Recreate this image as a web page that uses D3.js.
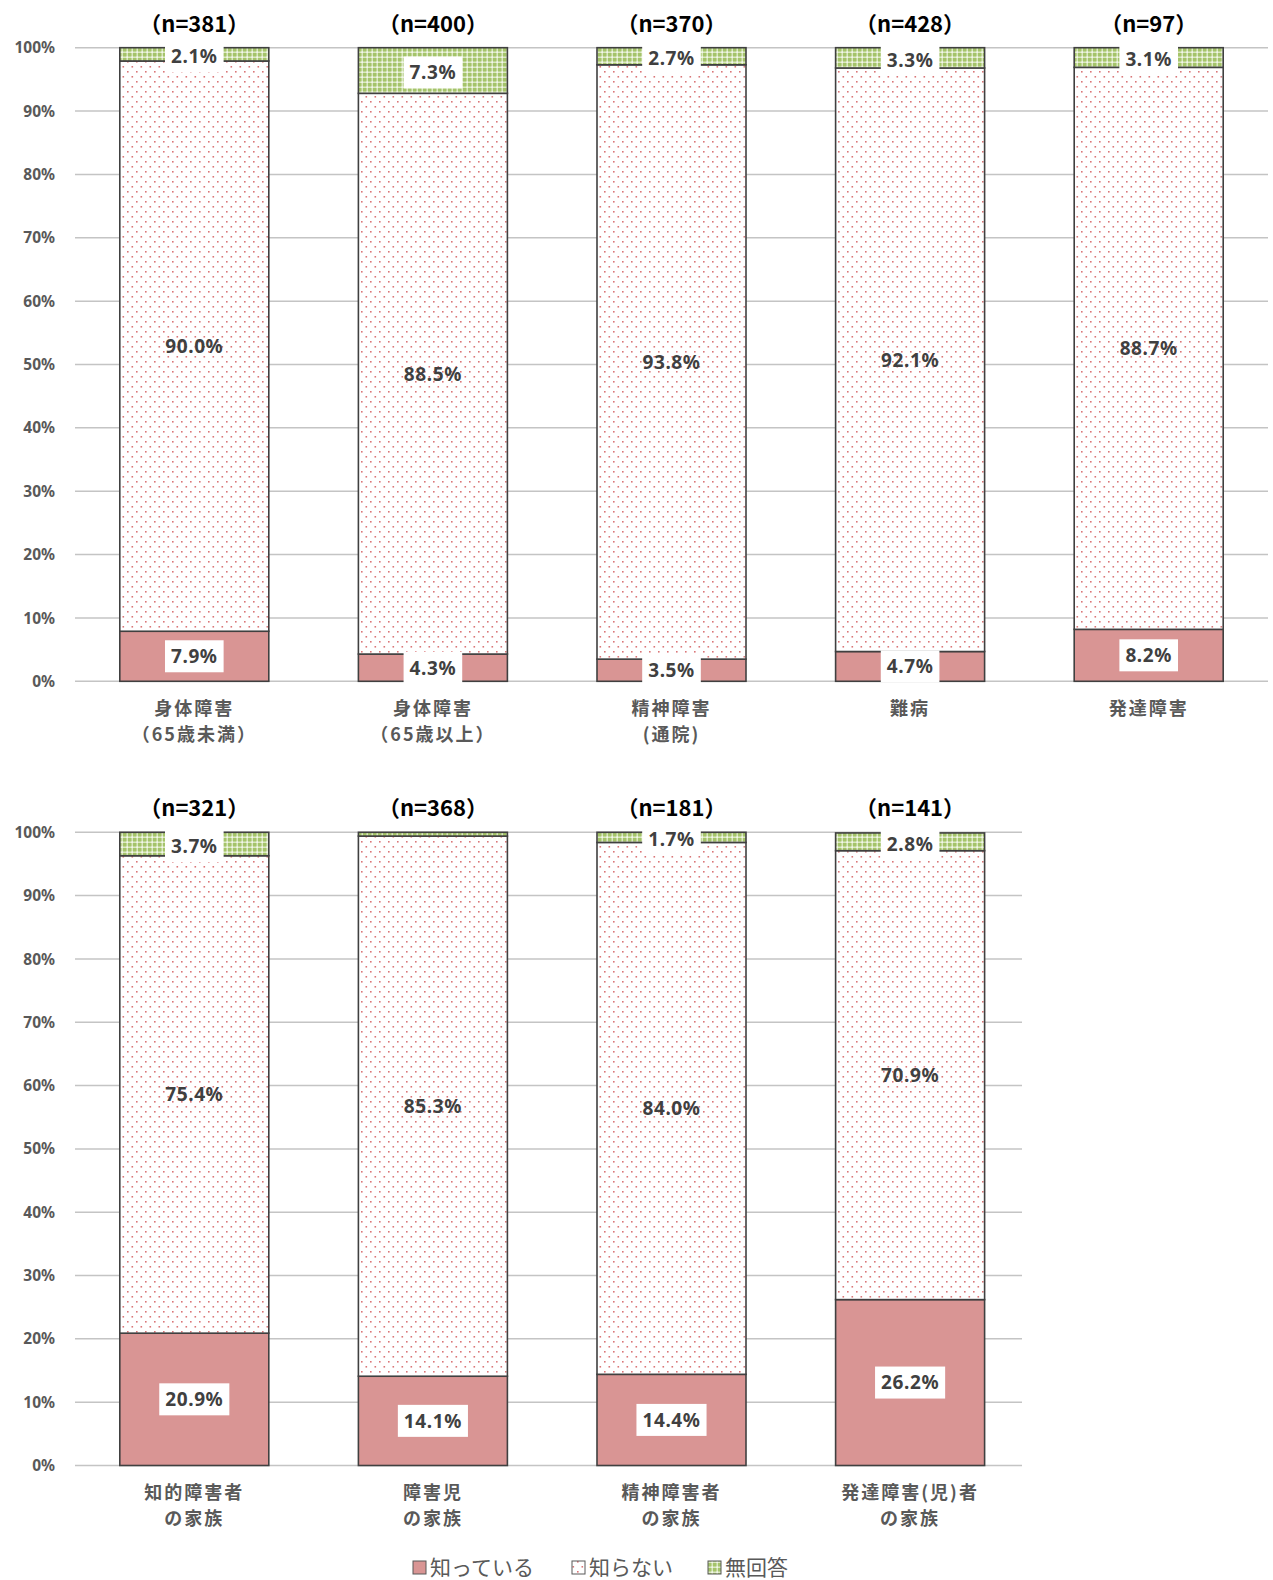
<!DOCTYPE html>
<html><head><meta charset="utf-8">
<script src="https://cdn.jsdelivr.net/npm/d3@7"></script>
<style>body{margin:0;background:#fff}svg{display:block}</style>
</head><body>
<script>
// ---- data ----
const categoriesTop = [["身体障害","（65歳未満）"],["身体障害","（65歳以上）"],["精神障害","(通院)"],["難病"],["発達障害"]];
const nTop = ["381","400","370","428","97"];
const knowTop = [7.9,4.3,3.5,4.7,8.2];
const notKnowTop = [90.0,88.5,93.8,92.1,88.7];
const noAnswerTop = [2.1,7.3,2.7,3.3,3.1];

const categoriesBottom = [["知的障害者","の家族"],["障害児","の家族"],["精神障害者","の家族"],["発達障害(児)者","の家族"]];
const nBottom = ["321","368","181","141"];
const knowBottom = [20.9,14.1,14.4,26.2];
const notKnowBottom = [75.4,85.3,84.0,70.9];
const noAnswerBottom = [3.7,0.6,1.7,2.8];

const seriesNames = ["知っている","知らない","無回答"];
const yTicks = [0,10,20,30,40,50,60,70,80,90,100];

// ---- drawing ----
const W = 1273, H = 1580;
const svg = d3.select("body").append("svg").attr("width", W).attr("height", H);
const defs = svg.append("defs");

// dotted pattern (知らない)
const pDot = defs.append("pattern").attr("id","pDot").attr("patternUnits","userSpaceOnUse")
  .attr("width",9).attr("height",10);
pDot.append("rect").attr("width",9).attr("height",10).attr("fill","#fff");
pDot.append("rect").attr("x",1).attr("y",1).attr("width",1.6).attr("height",1.6).attr("fill","#D45E61").attr("opacity",0.85);
pDot.append("rect").attr("x",5.5).attr("y",6).attr("width",1.6).attr("height",1.6).attr("fill","#D45E61").attr("opacity",0.85);

// green grid pattern (無回答)
const pGrid = defs.append("pattern").attr("id","pGrid").attr("patternUnits","userSpaceOnUse")
  .attr("width",5).attr("height",5);
pGrid.append("rect").attr("width",5).attr("height",5).attr("fill","#A5C46A");
pGrid.append("rect").attr("x",0).attr("y",1.5).attr("width",5).attr("height",1.5).attr("fill","#fff").attr("opacity",0.6);
pGrid.append("rect").attr("x",1.5).attr("y",0).attr("width",1.5).attr("height",5).attr("fill","#fff").attr("opacity",0.6);
pGrid.append("rect").attr("x",1.5).attr("y",1.5).attr("width",1.5).attr("height",1.5).attr("fill","#F2F7E8");

const fills = ["#D99594","url(#pDot)","url(#pGrid)"];
const jpFont = "'Noto Sans CJK JP','Noto Sans',sans-serif";
const STEP = 238.6;

function drawChart(opts){
  const {cats, ns, know, notKnow, noAns, x0, gridEnd, yBottom, yTop} = opts;
  const g = svg.append("g");
  const x = d3.scaleBand().domain(d3.range(cats.length)).range([x0, x0 + STEP*cats.length]).padding(0);
  const barW = 149;
  const y = d3.scaleLinear().domain([0,100]).range([yBottom, yTop]);

  // gridlines
  g.selectAll("line.grid").data(yTicks).join("line")
    .attr("x1", x0).attr("x2", gridEnd)
    .attr("y1", d=>y(d)).attr("y2", d=>y(d))
    .attr("stroke","#C4C4C4").attr("stroke-width",1.5);

  // y tick labels
  g.selectAll("text.yt").data(yTicks).join("text")
    .attr("x", 55).attr("y", d=>y(d)).attr("dy","0.36em")
    .attr("text-anchor","end").attr("font-family","'Noto Sans',sans-serif")
    .attr("font-weight","bold").attr("font-size",15.5).attr("fill","#595959")
    .text(d=>d+"%");

  const rows = cats.map((c,i)=>({i, k:know[i], n:notKnow[i], a:noAns[i]}));
  const stack = d3.stack().keys(["k","n","a"])(rows);

  stack.forEach((layer, li)=>{
    g.selectAll(null).data(layer).join("rect")
      .attr("x", d=>x(d.data.i) + (x.bandwidth()-barW)/2)
      .attr("width", barW)
      .attr("y", d=>y(Math.min(100,d[1])))
      .attr("height", d=>y(d[0]) - y(Math.min(100,d[1])))
      .attr("fill", fills[li])
      .attr("stroke","#404040").attr("stroke-width",1.6);
  });

  // data labels
  stack.forEach((layer, li)=>{
    layer.forEach(d=>{
      const v = d.data[["k","n","a"][li]];
      if (v < 1) return;
      const cx = x(d.data.i) + x.bandwidth()/2;
      const cy = y((d[0] + Math.min(100,d[1]))/2) + (li===2 ? 2 : 0);
      const lg = g.append("g");
      const t = lg.append("text").attr("x",cx).attr("y",cy).attr("dy","0.36em")
        .attr("text-anchor","middle").attr("font-family","'Noto Sans',sans-serif")
        .attr("font-weight","bold").attr("font-size",19).attr("letter-spacing",0.6).attr("fill","#404040")
        .text(v.toFixed(1)+"%");
      if (li !== 1) {
        const bb = t.node().getBBox();
        lg.insert("rect","text").attr("x", cx - bb.width/2 - 6).attr("y", cy - 16)
          .attr("width", bb.width + 12).attr("height", 32).attr("fill","#fff");
      }
    });
  });

  // n labels
  g.selectAll("text.n").data(ns).join("text")
    .attr("x",(d,i)=>x(i)+x.bandwidth()/2).attr("y", yTop - 24).attr("dy","0.36em")
    .attr("text-anchor","middle").attr("font-family",jpFont).attr("font-weight","bold")
    .attr("font-size",22).attr("fill","#000")
    .text(d=>"（n="+d+"）");

  // category labels
  cats.forEach((lines,i)=>{
    lines.forEach((ln,j)=>{
      g.append("text").attr("x", x(i)+x.bandwidth()/2).attr("y", yBottom + 27 + j*26).attr("dy","0.36em")
        .attr("text-anchor","middle").attr("font-family",jpFont).attr("font-weight","bold")
        .attr("font-size",18).attr("letter-spacing",2).attr("fill","#595959").text(ln);
    });
  });
}

drawChart({cats:categoriesTop, ns:nTop, know:knowTop, notKnow:notKnowTop, noAns:noAnswerTop,
  x0:75, gridEnd:1268, yBottom:681.3, yTop:47.7});
drawChart({cats:categoriesBottom, ns:nBottom, know:knowBottom, notKnow:notKnowBottom, noAns:noAnswerBottom,
  x0:75, gridEnd:1022, yBottom:1465.5, yTop:832.3});

// legend
const legX = [413, 572, 708];
const leg = svg.append("g");
seriesNames.forEach((s,i)=>{
  leg.append("rect").attr("x",legX[i]).attr("y",1561).attr("width",13).attr("height",13)
    .attr("fill",fills[i]).attr("stroke","#595959").attr("stroke-width",1);
  leg.append("text").attr("x",legX[i]+17).attr("y",1567).attr("dy","0.36em")
    .attr("font-family",jpFont).attr("font-size",21).attr("fill","#595959").text(s);
});
</script>
</body></html>
